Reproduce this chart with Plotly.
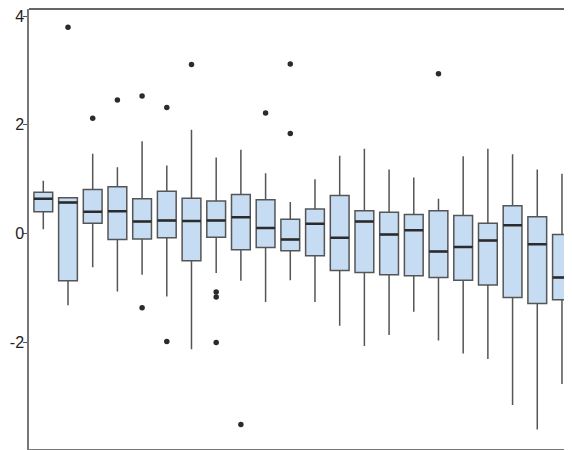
import plotly.graph_objects as go

positions = list(range(22))
upper_fence = [0.97, 0.66, 1.47, 1.22, 1.70, 1.25, 1.91, 1.40, 1.54, 1.11, 0.58,
               1.00, 1.43, 1.56, 1.18, 1.03, 0.64, 1.42, 1.56, 1.46, 1.18, 1.10]
q3 = [0.76, 0.66, 0.81, 0.86, 0.64, 0.78, 0.65, 0.60, 0.72, 0.62, 0.26,
      0.45, 0.70, 0.42, 0.39, 0.35, 0.42, 0.33, 0.19, 0.51, 0.31, -0.02]
median = [0.64, 0.57, 0.40, 0.41, 0.22, 0.24, 0.23, 0.24, 0.30, 0.10, -0.11,
          0.18, -0.08, 0.22, -0.02, 0.06, -0.33, -0.25, -0.13, 0.15, -0.20, -0.81]
q1 = [0.40, -0.87, 0.19, -0.11, -0.10, -0.08, -0.50, -0.07, -0.30, -0.26, -0.32,
      -0.41, -0.68, -0.72, -0.76, -0.78, -0.81, -0.86, -0.95, -1.18, -1.29, -1.22]
lower_fence = [0.08, -1.32, -0.62, -1.07, -0.76, -1.16, -2.13, -0.73, -0.87, -1.26, -0.86,
               -1.26, -1.70, -2.07, -1.87, -1.44, -1.97, -2.21, -2.31, -3.16, -3.61, -2.77]

outlier_box = [1, 2, 3, 4, 4, 5, 5, 6, 7, 7, 7, 8, 9, 10, 10, 16]
outlier_value = [3.80, 2.12, 2.46, 2.53, -1.37, 2.32, -1.99, 3.11, -1.08, -1.17, -2.01,
                 -3.52, 2.22, 3.12, 1.84, 2.94]

ytick_vals = [-2, 0, 2, 4]
ytick_text = ["-2", "0", "2", "4"]

fig = go.Figure()
fig.add_trace(go.Box(
    x=positions, q1=q1, median=median, q3=q3,
    lowerfence=lower_fence, upperfence=upper_fence,
    width=0.76, whiskerwidth=0, boxpoints=False,
    fillcolor="#c6dcf2", line=dict(color="#555555", width=1.5),
    showlegend=False, hoverinfo="skip",
))
fig.add_trace(go.Box(
    x=positions, q1=median, median=median, q3=median,
    lowerfence=median, upperfence=median,
    width=0.76, whiskerwidth=0, boxpoints=False,
    fillcolor="rgba(0,0,0,0)", line=dict(color="#2b2b2b", width=2.5),
    showlegend=False, hoverinfo="skip",
))
fig.add_trace(go.Scatter(
    x=outlier_box, y=outlier_value, mode="markers",
    marker=dict(color="#2b2b2b", size=5.5),
    showlegend=False, hoverinfo="skip",
))

fig.update_layout(
    width=572, height=450,
    margin=dict(l=21, r=0, t=1, b=9),
    paper_bgcolor="white", plot_bgcolor="white",
    boxmode="overlay",
    font=dict(family="Liberation Sans, Arial, sans-serif", size=14, color="#222222"),
    shapes=[dict(type="line", xref="paper", yref="paper", x0=0, x1=1, y0=1, y1=1,
                 line=dict(color="#333333", width=1.5))],
)
fig.update_xaxes(
    range=[-0.579, 21.73], showgrid=False, zeroline=False, automargin=False,
    showline=True, linecolor="#777777", linewidth=1,
    tickvals=positions, showticklabels=False, ticks="outside", ticklen=4,
    tickcolor="#777777",
)
fig.update_yaxes(
    range=[-3.969, 4.134], showgrid=False, zeroline=False, automargin=False,
    showline=True, linecolor="#777777", linewidth=1.5,
    tickvals=ytick_vals, ticktext=ytick_text, ticks="outside", ticklen=4,
    tickcolor="#555555", tickfont=dict(size=16, color="#222222"),
    ticklabeloverflow="allow", ticklabelstandoff=-4,
)

fig.write_html("out.html")
